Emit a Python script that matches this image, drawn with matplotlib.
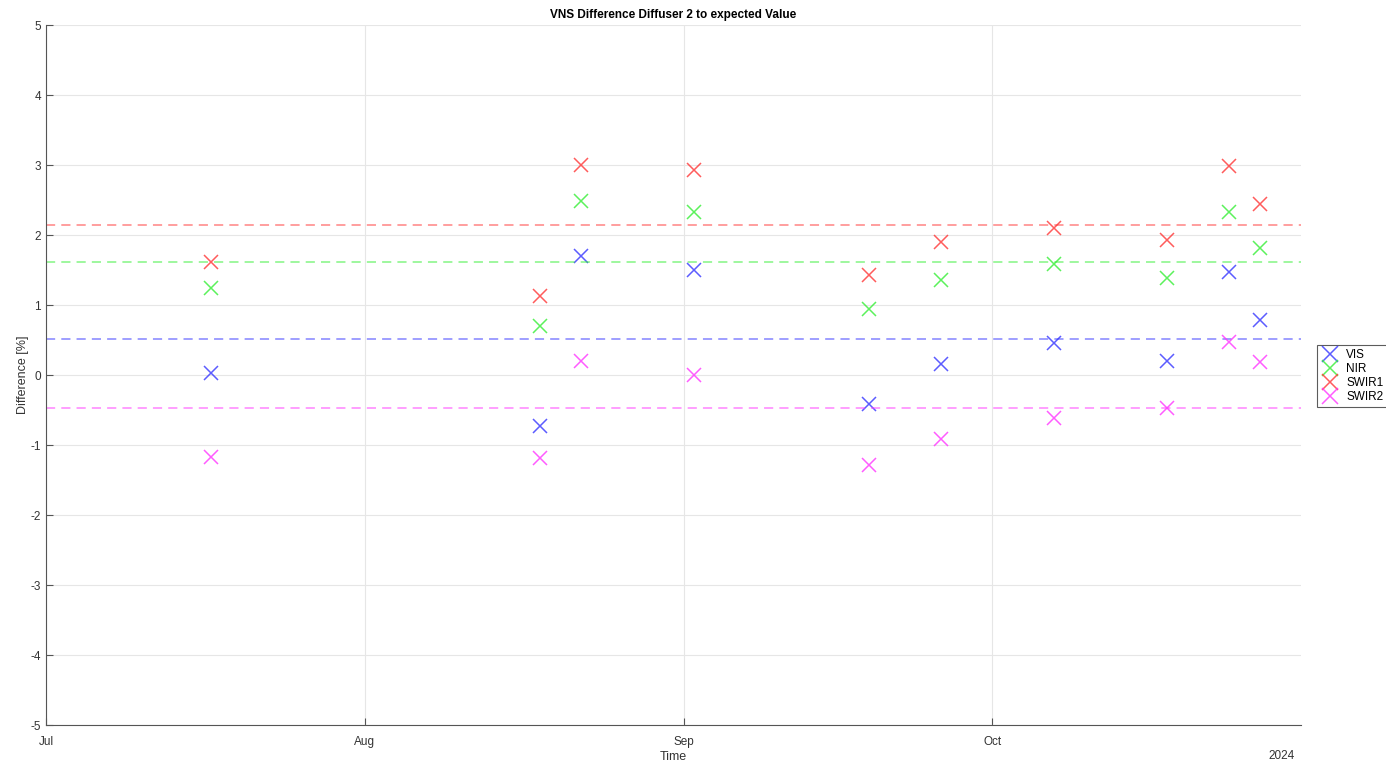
import matplotlib.pyplot as plt
import matplotlib.dates as mdates
import numpy as np
import datetime as dt

plt.rcParams['font.family'] = ['Liberation Sans', 'DejaVu Sans']
plt.rcParams['axes.unicode_minus'] = False

# measurement dates
dates = [dt.datetime(2023, 7, 17), dt.datetime(2023, 8, 18), dt.datetime(2023, 8, 22),
         dt.datetime(2023, 9, 2), dt.datetime(2023, 9, 19), dt.datetime(2023, 9, 26),
         dt.datetime(2023, 10, 7), dt.datetime(2023, 10, 18), dt.datetime(2023, 10, 24),
         dt.datetime(2023, 10, 27)]

# difference values [%]
vis = [0.03, -0.73, 1.70, 1.50, -0.41, 0.16, 0.46, 0.20, 1.47, 0.79]
nir = [1.24, 0.70, 2.49, 2.33, 0.94, 1.36, 1.59, 1.39, 2.33, 1.81]
swir1 = [1.61, 1.13, 3.00, 2.93, 1.43, 1.90, 2.10, 1.93, 2.99, 2.44]
swir2 = [-1.17, -1.19, 0.20, 0.00, -1.29, -0.91, -0.61, -0.47, 0.47, 0.19]

labels = ['VIS', 'NIR', 'SWIR1', 'SWIR2']
colors = ['#3333ff', '#33ee33', '#ff3333', '#ff33ff']

fig = plt.figure(figsize=(13.86, 7.62), dpi=100)
ax = fig.add_axes([46/1386, 37/762, 1255/1386, 700/762])

for vals, name, c in zip([vis, nir, swir1, swir2], labels, colors):
    ax.plot(dates, vals, linestyle='none', marker='x', markersize=10,
            markeredgewidth=1.1, color=c, alpha=0.8, label=name)
    # mean line
    ax.axhline(np.mean(vals), color=c, linestyle='--', dashes=(6, 4),
               linewidth=1.1, alpha=0.6)

ax.set_xlim(dt.datetime(2023, 7, 1), dt.datetime(2023, 10, 31))
ax.set_ylim(-5, 5)
ax.set_yticks(range(-5, 6))
ax.xaxis.set_major_locator(mdates.MonthLocator())
ax.xaxis.set_major_formatter(mdates.DateFormatter('%b'))

ax.grid(True, color='#e6e6e6', linewidth=0.8)
ax.set_axisbelow(True)
for s in ['top', 'right']:
    ax.spines[s].set_visible(False)
for s in ['left', 'bottom']:
    ax.spines[s].set_color('#555555')
ax.tick_params(direction='in', length=5, colors='#555555', labelsize=8.5,
               labelcolor='#333333')
ax.tick_params(axis='x', pad=8)

ax.set_title('VNS Difference Diffuser 2 to expected Value', fontsize=8.5,
             fontweight='bold', pad=5)
ax.set_xlabel('Time', fontsize=9, color='#333333', labelpad=2)
ax.set_ylabel('Difference [%]', fontsize=9, color='#333333', labelpad=1)
ax.text(0.995, -0.044, '2024', transform=ax.transAxes, fontsize=8.5,
        color='#333333', ha='right', va='center')

leg = fig.legend(loc='center left', bbox_to_anchor=(1311/1386, 1 - 376/762),
                 fontsize=8.5, frameon=True, fancybox=False, handlelength=1.5,
                 handletextpad=0.6, borderpad=0.4, labelspacing=0.15,
                 markerscale=1.1)
leg.get_frame().set_edgecolor('#333333')
leg.get_frame().set_linewidth(0.8)

plt.savefig('out.png', dpi=100)
